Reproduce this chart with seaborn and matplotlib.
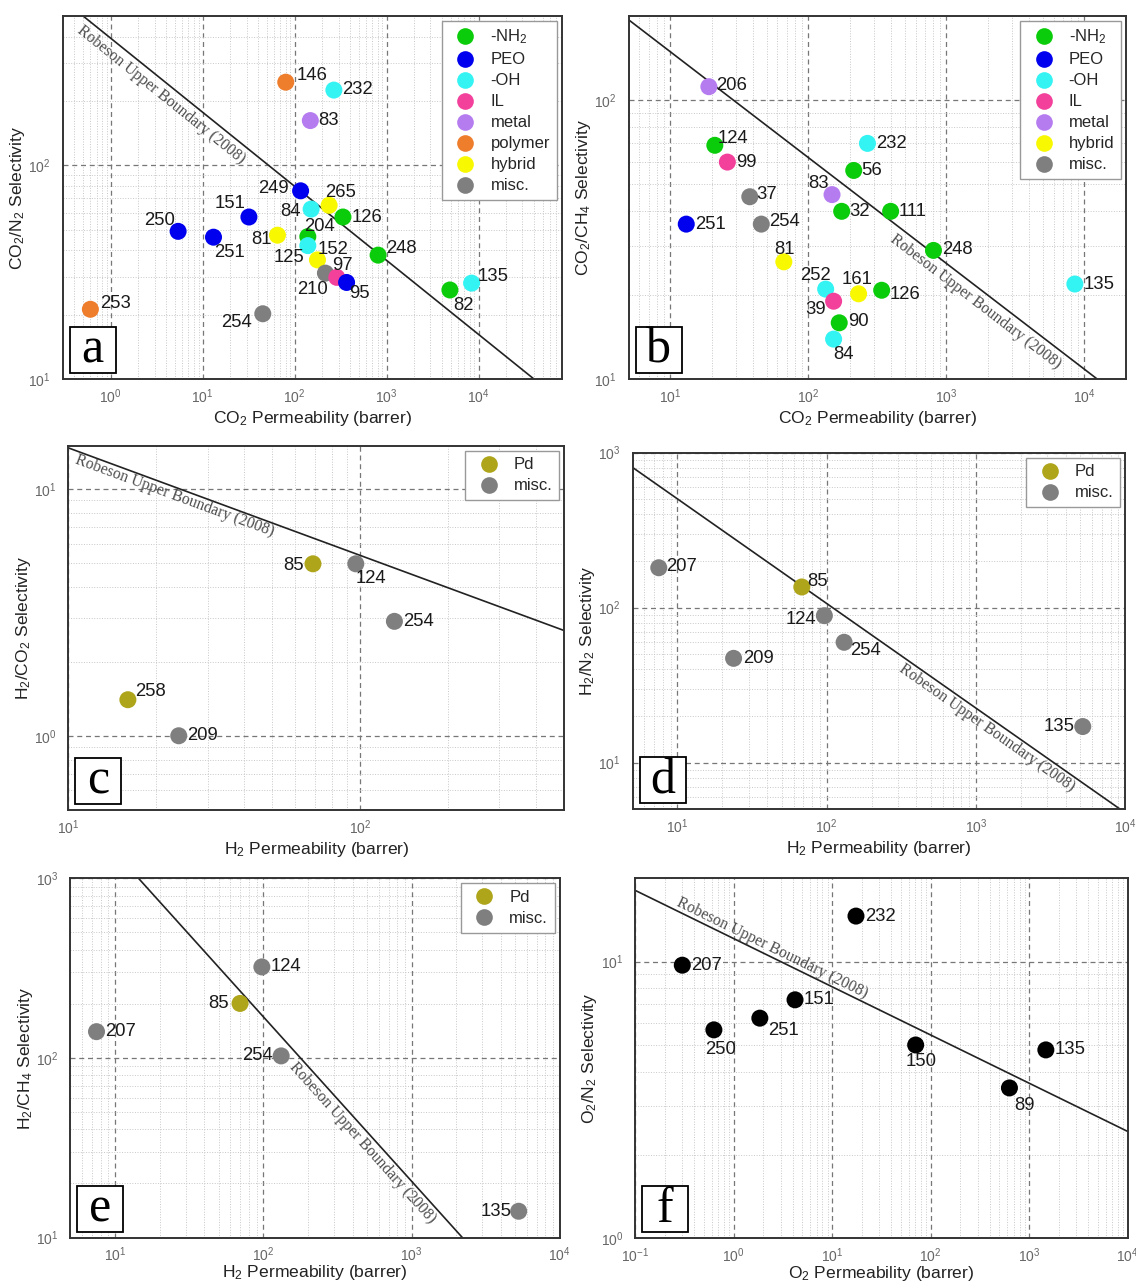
import numpy as np
import pandas as pd
import matplotlib
matplotlib.use('Agg')
import matplotlib.pyplot as plt
import seaborn as sns
from matplotlib.lines import Line2D
from matplotlib.patches import Rectangle
from matplotlib.ticker import LogLocator, NullFormatter

# ---------------- data ----------------
# (a) CO2/N2
a_ids = ['146', '232', '83', '249', '265', '84', '126', '151', '250', '251', '81',
         '204', '125', '248', '152', '210', '97', '95', '135', '82', '253', '254']
a_perm = [80, 267, 148, 116, 237, 151, 335, 31.8, 5.4, 13.1, 65,
          139, 139, 808, 177, 216, 287, 367, 8400, 4880, 0.6, 45]
a_sel = [245, 225, 162, 76, 65, 62.4, 57.3, 57.3, 49.1, 46.1, 47.1,
         46.4, 42.1, 38.0, 36.1, 31.3, 29.9, 28.3, 28.1, 26.1, 21.2, 20.2]
a_cat = ['polymer', '-OH', 'metal', 'PEO', 'hybrid', '-OH', '-NH2', 'PEO', 'PEO', 'PEO', 'hybrid',
         '-NH2', '-OH', '-NH2', 'hybrid', 'misc.', 'IL', 'PEO', '-OH', '-NH2', 'polymer', 'misc.']
a_rob_x = [0.5, 4.0e4]
a_rob_y = [500, 10]

# (b) CO2/CH4
b_ids = ['206', '124', '232', '99', '56', '83', '37', '32', '111', '251', '254',
         '248', '81', '252', '161', '126', '135', '39', '90', '84']
b_perm = [19.1, 21.1, 269, 26, 214, 149, 37.8, 175, 396, 13.1, 45.8,
          809, 66.7, 134, 232, 341, 8550, 153, 168, 153]
b_sel = [111.6, 68.8, 69.9, 59.9, 55.9, 45.8, 45.0, 39.9, 39.9, 35.9, 35.9,
         28.9, 26.3, 21.0, 20.2, 20.8, 21.9, 19.0, 15.9, 13.9]
b_cat = ['metal', '-NH2', '-OH', 'IL', '-NH2', 'metal', 'misc.', '-NH2', '-NH2', 'PEO', 'misc.',
         '-NH2', 'hybrid', '-OH', 'hybrid', '-NH2', '-OH', 'IL', '-NH2', '-OH']
b_rob_x = [5, 12400]
b_rob_y = [194, 10]

# (c) H2/CO2
c_ids = ['85', '124', '254', '258', '209']
c_perm = [68.9, 96.6, 131, 16.0, 23.9]
c_sel = [4.98, 4.98, 2.91, 1.40, 1.0]
c_cat = ['Pd', 'misc.', 'misc.', 'Pd', 'misc.']
c_rob_x = [10, 500]
c_rob_y = [14.7, 2.67]

# (d) H2/N2
d_ids = ['207', '85', '124', '254', '209', '135']
d_perm = [7.5, 68.2, 96.6, 131, 23.8, 5210]
d_sel = [181, 136, 88.8, 59.8, 47.1, 17.1]
d_cat = ['misc.', 'Pd', 'misc.', 'misc.', 'misc.', 'misc.']
d_rob_x = [5, 9300]
d_rob_y = [804, 5]

# (e) H2/CH4
e_ids = ['124', '85', '207', '254', '135']
e_perm = [97.8, 69.7, 7.5, 132, 5280]
e_sel = [321, 201, 140, 102.6, 14.0]
e_cat = ['misc.', 'Pd', 'misc.', 'misc.', 'misc.']
e_rob_x = [14.4, 2200]
e_rob_y = [1000, 10]

# (f) O2/N2
f_ids = ['232', '207', '151', '251', '250', '150', '135', '89']
f_perm = [17.5, 0.302, 4.21, 1.85, 0.632, 70.6, 1480, 632]
f_sel = [14.6, 9.7, 7.27, 6.24, 5.66, 4.99, 4.79, 3.49]
f_cat = ['all'] * len(f_ids)
f_rob_x = [0.1, 1e4]
f_rob_y = [18.1, 2.43]

palette = {'-NH2': '#0bcc0b', 'PEO': '#0000ee', '-OH': '#33f3f3', 'IL': '#f2409b',
           'metal': '#b57cf0', 'polymer': '#ee7d2c', 'hybrid': '#f8f800', 'misc.': '#7f7f7f',
           'Pd': '#aea51a', 'all': '#000000'}
legend_names = {'-NH2': '-NH$_2$'}

# label offsets (pixels, label centre relative to marker centre)
a_off = {'146': (26, 7), '232': (24, 1), '83': (18, 0), '249': (-27, 2), '265': (11, 13),
         '84': (-21, -2), '126': (24, 0), '151': (-19, 14), '250': (-19, 11), '251': (16, -15),
         '81': (-16, -4), '204': (12, 10), '125': (-19, -12), '248': (23, 7), '152': (16, 10),
         '210': (-13, -16), '97': (6, 12), '95': (13, -11), '135': (22, 7), '82': (14, -16),
         '253': (25, 6), '254': (-26, -9)}
b_off = {'206': (23, 1), '124': (18, 7), '232': (24, 0), '99': (19, 0), '56': (18, 0),
         '83': (-13, 11), '37': (17, 2), '32': (18, 0), '111': (22, 0), '251': (24, 0),
         '254': (23, 3), '248': (24, 1), '81': (1, 12), '252': (-10, 14), '161': (-2, 14),
         '126': (23, -4), '135': (24, 0), '39': (-18, -8), '90': (19, 1), '84': (10, -15)}
c_off = {'85': (-19, -2), '124': (15, -15), '254': (24, 0), '258': (23, 8), '209': (24, 0)}
d_off = {'207': (23, 1), '85': (16, 5), '124': (-23, -4), '254': (21, -8), '209': (25, 0), '135': (-24, 0)}
e_off = {'124': (24, 0), '85': (-21, 0), '207': (24, 0), '254': (-24, 0), '135': (-23, 0)}
f_off = {'232': (24, 0), '207': (24, 0), '151': (24, 0), '251': (24, -12), '250': (7, -20),
         '150': (5, -17), '135': (24, 0), '89': (15, -18)}

sns.set_style('white')
plt.rcParams['font.family'] = ['Liberation Sans', 'DejaVu Sans']
plt.rcParams['mathtext.fontset'] = 'custom'
plt.rcParams['mathtext.rm'] = 'Liberation Sans'
plt.rcParams['mathtext.it'] = 'Liberation Sans:italic'

W, H = 1136, 1284
fig = plt.figure(figsize=(W / 100, H / 100), dpi=100)


def rect(l, t, r, b):
    return [l / W, 1 - b / H, (r - l) / W, (b - t) / H]


co2 = 'CO$_2$ Permeability (barrer)'
h2 = 'H$_2$ Permeability (barrer)'
panels = [
    dict(letter='a', box=(62.7, 16, 561.6, 379), ids=a_ids, x=a_perm, y=a_sel, cat=a_cat,
         xlim=(0.3, 8e4), ylim=(10, 500), xlabel=co2, ylabel='CO$_2$/N$_2$ Selectivity',
         legend=['-NH2', 'PEO', '-OH', 'IL', 'metal', 'polymer', 'hybrid', 'misc.'],
         rob=(a_rob_x, a_rob_y), rob_xc=4.27, rob_off=12.7, off=a_off, xpad=2),
    dict(letter='b', box=(628.5, 16, 1125.8, 379), ids=b_ids, x=b_perm, y=b_sel, cat=b_cat,
         xlim=(5, 2e4), ylim=(10, 200), xlabel=co2, ylabel='CO$_2$/CH$_4$ Selectivity',
         legend=['-NH2', 'PEO', '-OH', 'IL', 'metal', 'hybrid', 'misc.'],
         rob=(b_rob_x, b_rob_y), rob_xc=1860, rob_off=12.2, off=b_off, xpad=2),
    dict(letter='c', box=(68.3, 445.7, 564.2, 810), ids=c_ids, x=c_perm, y=c_sel, cat=c_cat,
         xlim=(10, 500), ylim=(0.5, 15), xlabel=h2, ylabel='H$_2$/CO$_2$ Selectivity',
         legend=['Pd', 'misc.'], rob=(c_rob_x, c_rob_y), rob_xc=23.7, rob_off=8.4, off=c_off,
         xpad=2),
    dict(letter='d', box=(632.5, 452.7, 1125, 809.3), ids=d_ids, x=d_perm, y=d_sel, cat=d_cat,
         xlim=(5, 1e4), ylim=(5, 1000), xlabel=h2, ylabel='H$_2$/N$_2$ Selectivity',
         legend=['Pd', 'misc.'], rob=(d_rob_x, d_rob_y), rob_xc=1300, rob_off=9.6, off=d_off,
         xpad=2),
    dict(letter='e', box=(70.4, 878.3, 559.8, 1237.5), ids=e_ids, x=e_perm, y=e_sel, cat=e_cat,
         xlim=(5, 1e4), ylim=(10, 1000), xlabel=h2, ylabel='H$_2$/CH$_4$ Selectivity',
         legend=['Pd', 'misc.'], rob=(e_rob_x, e_rob_y), rob_xc=531, rob_off=10.7, off=e_off,
         xpad=-1),
    dict(letter='f', box=(635, 878.3, 1127.6, 1238), ids=f_ids, x=f_perm, y=f_sel, cat=f_cat,
         xlim=(0.1, 1e4), ylim=(1, 20), xlabel='O$_2$ Permeability (barrer)',
         ylabel='O$_2$/N$_2$ Selectivity', legend=None,
         rob=(f_rob_x, f_rob_y), rob_xc=2.27, rob_off=-8.1, off=f_off, xpad=-1),
]

for p in panels:
    ax = fig.add_axes(rect(*p['box']))
    ax.set_xscale('log')
    ax.set_yscale('log')
    ax.set_xlim(*p['xlim'])
    ax.set_ylim(*p['ylim'])
    ax.set_axisbelow(True)

    df = pd.DataFrame({'id': p['ids'], 'perm': p['x'], 'sel': p['y'], 'cat': p['cat']})
    sns.scatterplot(data=df, x='perm', y='sel', hue='cat', palette=palette, s=150,
                    linewidth=0, edgecolor='none', legend=False, ax=ax, zorder=3)

    for pid, px, py in zip(p['ids'], p['x'], p['y']):
        dx, dy = p['off'][pid]
        ax.annotate(pid, (px, py), xytext=(dx, dy), textcoords='offset pixels',
                    ha='center', va='center', fontsize=13.3, color='#1a1a1a', zorder=4)

    # Robeson upper bound and its rotated label
    rx, ry = p['rob']
    ax.plot(rx, ry, color='#222222', lw=1.2, zorder=2)
    p0 = ax.transData.transform((rx[0], ry[0]))
    p1 = ax.transData.transform((rx[1], ry[1]))
    d = p1 - p0
    ang = np.degrees(np.arctan2(d[1], d[0]))
    t = (np.log10(p['rob_xc']) - np.log10(rx[0])) / (np.log10(rx[1]) - np.log10(rx[0]))
    nrm = np.array([d[1], -d[0]]) / np.hypot(d[0], d[1])
    pos = p0 + t * d + p['rob_off'] * nrm
    tx, ty = ax.transData.inverted().transform(pos)
    ax.text(tx, ty, 'Robeson Upper Boundary (2008)', rotation=ang, rotation_mode='anchor',
            ha='center', va='center', fontsize=11.3, color='#4d4d4d',
            family=['Liberation Serif', 'DejaVu Serif'], zorder=2)

    # grid and ticks
    for axis in (ax.xaxis, ax.yaxis):
        axis.set_major_locator(LogLocator(base=10, numticks=100))
        axis.set_minor_locator(LogLocator(base=10, subs=np.arange(2, 10), numticks=100))
        axis.set_minor_formatter(NullFormatter())
    ax.grid(which='major', ls=(0, (4, 3)), color='#777777', lw=0.9)
    ax.grid(which='minor', ls=':', color='#c8c8c8', lw=0.7)
    ax.tick_params(axis='x', which='major', direction='inout', length=8, width=1.2,
                   color='#333333', labelcolor='#666666', labelsize=10, pad=2)
    ax.tick_params(axis='x', which='minor', direction='in', length=4, width=1.0, color='#333333')
    ax.tick_params(axis='y', which='major', direction='out', length=5, width=1.2,
                   color='#333333', labelcolor='#666666', labelsize=10)
    ax.tick_params(axis='y', which='minor', direction='out', length=3, width=1.0, color='#333333')
    for sp in ax.spines.values():
        sp.set_linewidth(1.4)
        sp.set_color('#333333')

    ax.set_xlabel(p['xlabel'], fontsize=12.6, color='#222222', labelpad=p['xpad'])
    ax.set_ylabel(p['ylabel'], fontsize=12.6, color='#222222', labelpad=1)

    if p['legend']:
        handles = [Line2D([], [], ls='', marker='o', ms=12, mew=0, color=palette[c])
                   for c in p['legend']]
        labels = [legend_names.get(c, c) for c in p['legend']]
        leg = ax.legend(handles, labels, loc='upper right', fontsize=12, frameon=True,
                        fancybox=False, edgecolor='#999999', framealpha=1, borderpad=0.4,
                        labelspacing=0.36, handlelength=2.0, handletextpad=0.5,
                        borderaxespad=0.3)
        leg.get_frame().set_linewidth(1.0)
        leg.set_zorder(6)

    # panel letter box
    aw, ah = ax.bbox.width, ax.bbox.height
    x0, y0 = 7 / aw, 6 / ah
    ax.add_patch(Rectangle((x0, y0), 46 / aw, 46 / ah, transform=ax.transAxes,
                           fc='white', ec='black', lw=1.3, zorder=5))
    ax.text(x0 + 23 / aw, y0 + 10 / ah, p['letter'], transform=ax.transAxes,
            ha='center', va='baseline', fontsize=36, color='black',
            family=['Liberation Serif', 'DejaVu Serif'], zorder=6)

fig.savefig('out.png', dpi=100)
